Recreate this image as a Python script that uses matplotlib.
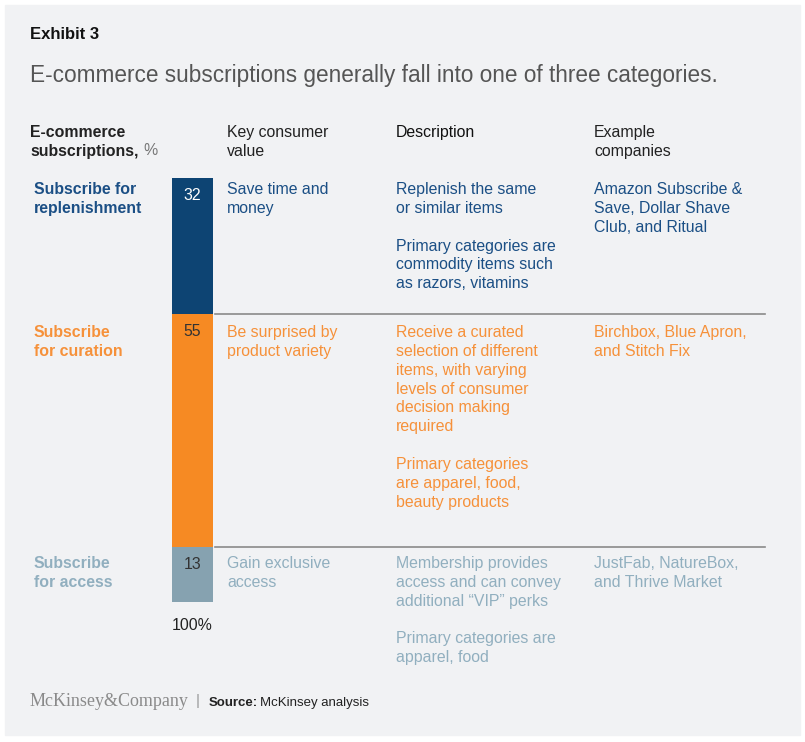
import matplotlib.pyplot as plt
from matplotlib.patches import Rectangle
from matplotlib.transforms import blended_transform_factory

W, H = 805, 742

# data
categories = ["Subscribe for\nreplenishment", "Subscribe\nfor curation", "Subscribe\nfor access"]
shares = [32, 55, 13]
consumer_value = ["Save time and\nmoney", "Be surprised by\nproduct variety", "Gain exclusive\naccess"]
descriptions = [
    ["Replenish the same\nor similar items",
     "Primary categories are\ncommodity items such\nas razors, vitamins"],
    ["Receive a curated\nselection of different\nitems, with varying\nlevels of consumer\ndecision making\nrequired",
     "Primary categories\nare apparel, food,\nbeauty products"],
    ["Membership provides\naccess and can convey\nadditional \u201cVIP\u201d perks",
     "Primary categories are\napparel, food"],
]
examples = ["Amazon Subscribe &\nSave, Dollar Shave\nClub, and Ritual",
            "Birchbox, Blue Apron,\nand Stitch Fix",
            "JustFab, NatureBox,\nand Thrive Market"]

bar_colors = ["#0d4473", "#f68a23", "#86a2b0"]
text_colors = ["#1b4f85", "#f6913a", "#91afbf"]
num_colors = ["white", "#333333", "#333333"]

plt.rcParams['font.family'] = ['Liberation Sans', 'DejaVu Sans']

fig = plt.figure(figsize=(W / 100, H / 100), dpi=100)
fig.patch.set_facecolor("white")
fig.patches.append(Rectangle((5 / W, 1 - 735 / H), 795 / W, 730 / H,
                             transform=fig.transFigure, color="#f1f2f4", zorder=-1))


def put(x, y, s, **kw):
    kw.setdefault("fontsize", 11.4)
    kw.setdefault("linespacing", 1.32)
    return fig.text(x / W, 1 - y / H, s, va="top", ha="left", **kw)


put(30, 27, "Exhibit 3", fontsize=12, color="#111111", weight="bold")
put(30, 64, "E-commerce subscriptions generally fall into one of three categories.",
    fontsize=16.3, color="#555555")

# column headers
put(30, 125, "E-commerce\nsubscriptions,", color="#222222", weight="bold")
put(143, 143, "%", color="#777777")
put(227, 125, "Key consumer\nvalue", color="#222222")
put(396, 125, "Description", color="#111111")
put(594, 125, "Example\ncompanies", color="#222222")

# stacked bar
ax = fig.add_axes([172 / W, 1 - 602 / H, 41 / W, 424 / H])
ax.set_xlim(0, 1)
ax.set_ylim(100, 0)
ax.axis("off")
bottoms = [sum(shares[:i]) for i in range(len(shares))]
ax.bar([0.5] * len(shares), shares, bottom=bottoms, width=1, color=bar_colors, linewidth=0)
for b, v, c in zip(bottoms, shares, num_colors):
    ax.text(0.5, b + 4.2, str(v), ha="center", va="center", fontsize=11.4, color=c)
ax.text(0.5, 105.5, f"{sum(shares)}%", ha="center", va="center", fontsize=11.4,
        color="#222222", clip_on=False)

# separators between rows
tr = blended_transform_factory(fig.transFigure, ax.transData)
for b in bottoms[1:]:
    ax.plot([215 / W, 765 / W], [b, b], transform=tr, color="#8a8a8a", lw=1.2, clip_on=False)

row_tops = [182, 325, 556]
for i, top in enumerate(row_tops):
    c = text_colors[i]
    put(34, top, categories[i], color=c, weight="semibold" if i else "bold")
    put(227, top, consumer_value[i], color=c)
    put(396, top, "\n\n".join(descriptions[i]), color=c)
    put(594, top, examples[i], color=c)

# footer
put(30, 693, "McKinsey&Company", fontsize=13, color="#8a8a8a", family="Liberation Serif")
put(196, 694, "|", fontsize=11, color="#999999")
put(209, 697, "Source:", fontsize=9.5, color="#222222", weight="bold")
put(260, 697, "McKinsey analysis", fontsize=9.5, color="#222222")

fig.savefig("out.png", dpi=100, facecolor=fig.get_facecolor())
